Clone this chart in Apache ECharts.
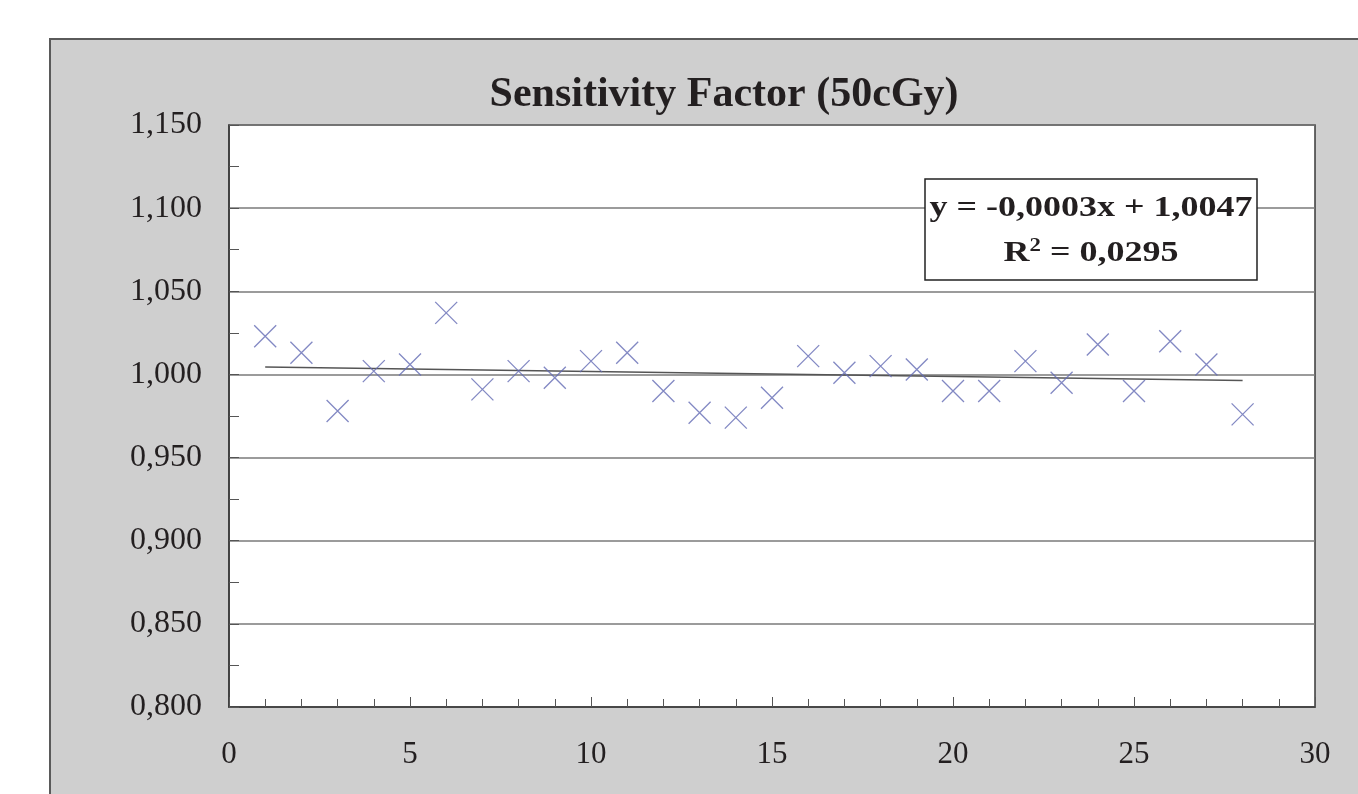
<!DOCTYPE html>
<html>
<head>
<meta charset="utf-8">
<script src="https://cdn.jsdelivr.net/npm/echarts@6/dist/echarts.min.js"></script>
<style>
html,body{margin:0;padding:0;background:#fff;}
#chart{width:1358px;height:794px;}
</style>
</head>
<body>
<div id="chart"></div>
<script>
const titleText = 'Sensitivity Factor (50cGy)';
const xValues = [1,2,3,4,5,6,7,8,9,10,11,12,13,14,15,16,17,18,19,20,21,22,23,24,25,26,27,28];
const yValues = [1.023,1.013,0.978,1.002,1.006,1.037,0.991,1.002,0.998,1.008,1.013,0.990,0.977,0.974,0.986,1.011,1.001,1.005,1.003,0.990,0.990,1.008,0.995,1.018,0.990,1.020,1.006,0.976];
const trendX = [1, 28];
const trendY = [1.0044, 0.9963];
const equationLines = ['y = -0,0003x + 1,0047', 'R{sup|2} = 0,0295'];
const yMin = 0.8, yMax = 1.15, yStep = 0.05;
const xMin = 0, xMax = 30, xStep = 5;

const chart = echarts.init(document.getElementById('chart'));
const serif = '"Liberation Serif","DejaVu Serif",serif';
const fmt = v => v.toFixed(3).replace('.', ',');

chart.setOption({
  backgroundColor: '#ffffff',
  animation: false,
  title: {
    text: titleText,
    left: 719,
    textAlign: 'center',
    top: 69,
    textStyle: {fontFamily: serif, fontWeight: 'bold', fontSize: 42, color: '#231f20'}
  },
  graphic: [
    {
      type: 'rect', z: -10, silent: true,
      shape: {x: 50, y: 39, width: 1330, height: 800},
      style: {fill: '#cfcfcf', stroke: '#5a5a5a', lineWidth: 2}
    },
    {type: 'rect', z: 100, shape: {x: 925, y: 179, width: 332, height: 101},
     style: {fill: '#ffffff', stroke: '#222', lineWidth: 1.5}},
    {type: 'text', z: 101, x: 1091, y: 208, scaleX: 1.2,
     style: {text: equationLines[0], align: 'center', verticalAlign: 'middle',
             font: 'bold 30px ' + serif, fill: '#231f20'}},
    {type: 'text', z: 101, x: 1091, y: 253, scaleX: 1.2,
     style: {text: equationLines[1], align: 'center', verticalAlign: 'middle',
             font: 'bold 30px ' + serif, fill: '#231f20',
             rich: {sup: {font: 'bold 19px ' + serif, fill: '#231f20', verticalAlign: 'top', padding: [0,0,14,0]}}}}
  ],
  grid: {
    left: 229, top: 125, right: 43, bottom: 87,
    show: true, backgroundColor: '#ffffff', borderColor: '#3a3a3a', borderWidth: 1.5
  },
  xAxis: {
    type: 'value', min: xMin, max: xMax, interval: xStep,
    axisLine: {show: true, lineStyle: {color: '#3a3a3a', width: 1.5}},
    axisTick: {show: true, inside: true, length: 10, lineStyle: {color: '#555', width: 1}},
    minorTick: {show: true, splitNumber: 5, length: 8, lineStyle: {color: '#555', width: 1}},
    splitLine: {show: false},
    axisLabel: {fontFamily: serif, fontSize: 31, color: '#231f20', margin: 32}
  },
  yAxis: {
    type: 'value', min: yMin, max: yMax, interval: yStep,
    axisLine: {show: true, lineStyle: {color: '#3a3a3a', width: 1.5}},
    axisTick: {show: true, inside: true, length: 10, lineStyle: {color: '#555', width: 1}},
    minorTick: {show: true, splitNumber: 2, length: 10, lineStyle: {color: '#555', width: 1}},
    splitLine: {show: true, lineStyle: {color: '#7a7a7a', width: 1.5}},
    axisLabel: {fontFamily: serif, fontSize: 32, color: '#231f20', margin: 27, formatter: fmt}
  },
  series: [
    {
      type: 'line', z: 3,
      data: trendX.map((x, i) => [x, trendY[i]]),
      showSymbol: false, symbol: 'none',
      lineStyle: {color: '#555555', width: 1.5}
    },
    {
      type: 'scatter', z: 4,
      data: xValues.map((x, i) => [x, yValues[i]]),
      symbol: 'path://M0,0L10,10M10,0L0,10',
      symbolSize: 22,
      itemStyle: {color: 'rgba(0,0,0,0)', borderColor: '#636ab4', borderWidth: 1.3}
    }
  ]
});
</script>
</body>
</html>
